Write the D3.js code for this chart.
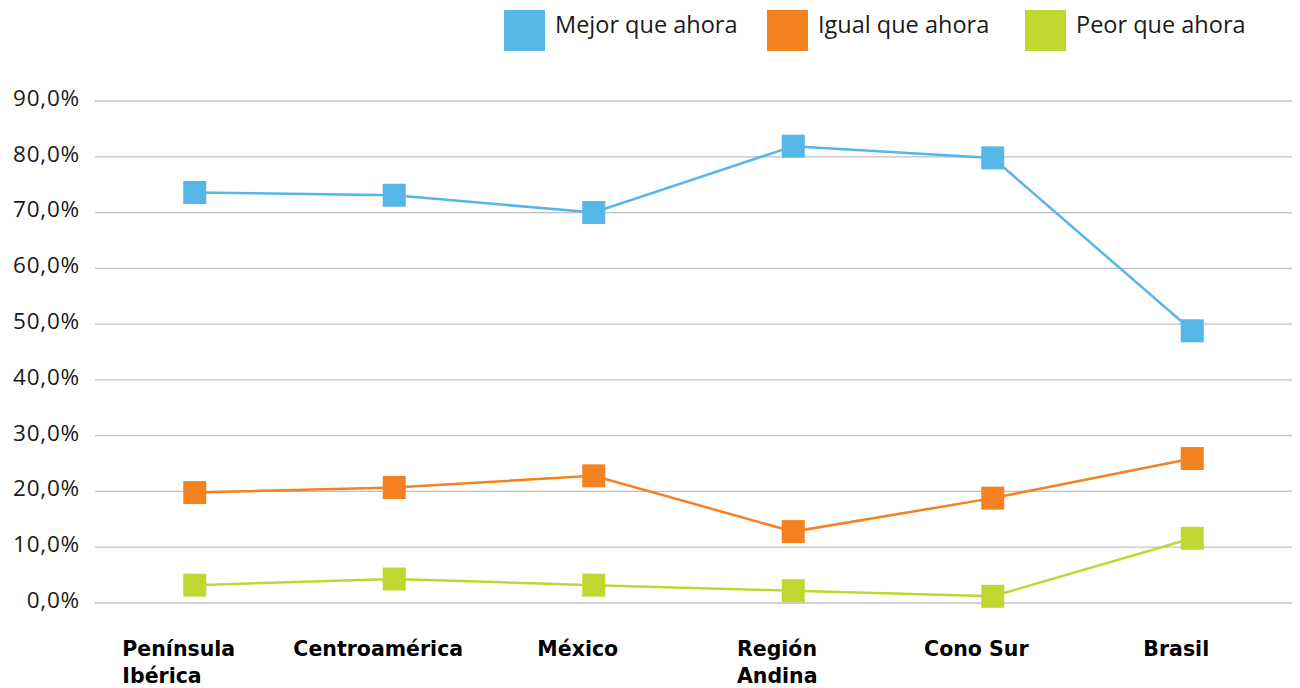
<!DOCTYPE html>
<html>
<head>
<meta charset="utf-8">
<script src="https://cdn.jsdelivr.net/npm/d3@7"></script>
<style>
  body { margin: 0; background: #fff; }
  svg text { font-family: "Open Sans", "DejaVu Sans", sans-serif; fill: #1a1a1a; }
  .grid line { stroke: #bfbfbf; stroke-width: 1.3; }
</style>
</head>
<body>
<div class="chart"></div>
<script>
// regions along the x axis
var categories = ["Península Ibérica", "Centroamérica", "México", "Región Andina", "Cono Sur", "Brasil"];
var seriesNames = ["Mejor que ahora", "Igual que ahora", "Peor que ahora"];
var colors = ["#55b7e8", "#f48221", "#c1d731"];

var mejor = [73.6, 73.1, 70.0, 81.9, 79.8, 48.8];
var igual = [19.8, 20.7, 22.8, 12.8, 18.8, 25.9];
var peor  = [3.2, 4.3, 3.2, 2.2, 1.2, 11.6];

var yTicks = [0, 10, 20, 30, 40, 50, 60, 70, 80, 90];

var W = 1300, H = 688;
var margin = { top: 101, right: 8, bottom: 85, left: 95 },
    width = W - margin.left - margin.right,
    height = H - margin.top - margin.bottom;

var svg = d3.select(".chart").append("svg")
    .attr("width", W)
    .attr("height", H);

var g = svg.append("g")
    .attr("transform", "translate(" + margin.left + "," + margin.top + ")");

var x = d3.scaleBand().domain(categories).range([0, width]);
var y = d3.scaleLinear().domain([0, 90]).range([height, 0]);

// gridlines
g.append("g").attr("class", "grid")
  .selectAll("line")
  .data(yTicks)
  .enter().append("line")
  .attr("x1", 0).attr("x2", width)
  .attr("y1", function(d) { return y(d); })
  .attr("y2", function(d) { return y(d); });

// y labels
g.append("g").selectAll("text")
  .data(yTicks)
  .enter().append("text")
  .attr("x", -15)
  .attr("y", function(d) { return y(d) - 3; })
  .attr("dy", "0.35em")
  .attr("text-anchor", "end")
  .style("font-size", "22.5px")
  .style("letter-spacing", "0.8px")
  .text(function(d) { return d3.format(".1f")(d).replace(".", ",") + "%"; });

// x labels, wrapped when long, left aligned inside a centred block
var xl = g.append("g").selectAll("g")
  .data(categories)
  .enter().append("g");
xl.each(function(c) {
  var t = d3.select(this).append("text")
    .style("font-family", "'DejaVu Sans', sans-serif")
    .style("font-size", "20.5px")
    .style("font-weight", "bold")
    .style("fill", "#000")
    .text(c);
  if (t.node().getComputedTextLength() > 160) {
    var words = c.split(" ");
    t.text(null);
    words.forEach(function(w, i) {
      t.append("tspan").attr("x", 0).attr("dy", i === 0 ? 0 : 27).text(w);
    });
  }
  var bw = t.node().getBBox().width;
  d3.select(this).attr("transform",
    "translate(" + (x(c) + x.bandwidth() / 2 - 16 - bw / 2) + "," + (height + 53) + ")");
});

var line = d3.line()
  .x(function(d, i) { return x(categories[i]) + x.bandwidth() / 2; })
  .y(function(d) { return y(d); });

var series = [mejor, igual, peor];
var ms = 23;

series.forEach(function(s, k) {
  g.append("path")
    .datum(s)
    .attr("fill", "none")
    .attr("stroke", colors[k])
    .attr("stroke-width", 2.5)
    .attr("d", line);

  g.selectAll(".m" + k)
    .data(s)
    .enter().append("rect")
    .attr("class", "m" + k)
    .attr("x", function(d, i) { return x(categories[i]) + x.bandwidth() / 2 - ms / 2; })
    .attr("y", function(d) { return y(d) - ms / 2; })
    .attr("width", ms)
    .attr("height", ms)
    .attr("fill", colors[k]);
});

// legend
var legX = [504, 767, 1025];
var leg = svg.append("g").selectAll("g")
  .data(seriesNames)
  .enter().append("g")
  .attr("transform", function(d, i) { return "translate(" + legX[i] + ",10)"; });
leg.append("rect")
  .attr("width", 41).attr("height", 41)
  .attr("fill", function(d, i) { return colors[i]; });
leg.append("text")
  .attr("x", 51).attr("y", 15)
  .attr("dy", "0.35em")
  .style("font-size", "23.5px")
  .text(function(d) { return d; });
</script>
</body>
</html>
